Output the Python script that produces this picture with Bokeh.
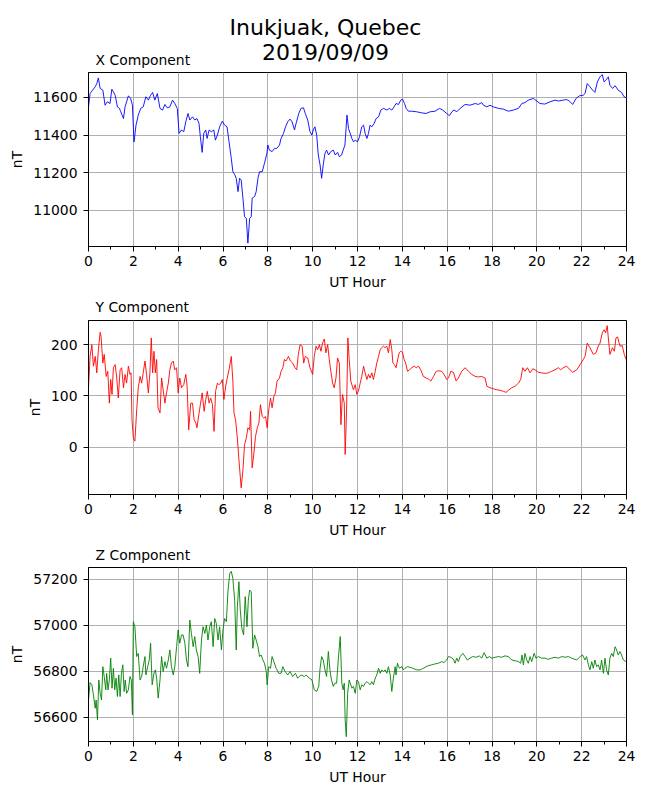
from bokeh.plotting import figure
from bokeh.layouts import column
from bokeh.models import Range1d, SingleIntervalTicker, FixedTicker
from bokeh.core.properties import value
from bokeh.embed import file_html
from bokeh.resources import INLINE

FONT = "DejaVu Sans"

# ---------------- data ----------------
main_title_1 = "Inukjuak, Quebec"
main_title_2 = "2019/09/09"
panel_titles = ["X Component", "Y Component", "Z Component"]

x_hours = [0.00, 0.07, 0.18, 0.30, 0.37, 0.44, 0.52, 0.64, 0.74, 0.84, 0.96, 1.04, 1.11, 1.19, 1.29, 1.38,
           1.44, 1.56, 1.63, 1.78, 1.88, 1.96, 2.03, 2.12, 2.22, 2.33, 2.44, 2.56, 2.67, 2.77, 2.86, 2.96,
           3.07, 3.19, 3.30, 3.41, 3.51, 3.63, 3.75, 3.85, 3.96, 4.04, 4.15, 4.25, 4.34, 4.44, 4.52, 4.64,
           4.74, 4.84, 4.93, 4.99, 5.07, 5.14, 5.23, 5.29, 5.38, 5.48, 5.59, 5.66, 5.75, 5.85, 5.97, 6.07,
           6.18, 6.27, 6.37, 6.44, 6.53, 6.59, 6.67, 6.74, 6.81, 6.89, 6.96, 7.04, 7.11, 7.19, 7.26, 7.30,
           7.41, 7.48, 7.56, 7.63, 7.75, 7.85, 7.96, 8.00, 8.07, 8.19, 8.30, 8.40, 8.52, 8.59, 8.70, 8.79,
           8.89, 8.99, 9.08, 9.19, 9.26, 9.38, 9.48, 9.59, 9.67, 9.78, 9.88, 9.96, 10.03, 10.10, 10.18,
           10.25, 10.33, 10.40, 10.47, 10.55, 10.62, 10.71, 10.81, 10.92, 11.01, 11.11, 11.19, 11.29, 11.36,
           11.44, 11.53, 11.60, 11.75, 11.82, 11.90, 12.00, 12.09, 12.19, 12.27, 12.34, 12.42, 12.49, 12.56,
           12.64, 12.74, 12.83, 12.94, 13.04, 13.16, 13.31, 13.43, 13.53, 13.63, 13.72, 13.83, 13.93, 14.01,
           14.10, 14.17, 14.27, 14.42, 14.64, 14.87, 15.06, 15.24, 15.46, 15.66, 15.80, 15.98, 16.10, 16.21,
           16.31, 16.43, 16.58, 16.80, 17.02, 17.25, 17.39, 17.54, 17.62, 17.77, 17.91, 18.06, 18.29, 18.51,
           18.73, 18.95, 19.18, 19.33, 19.47, 19.62, 19.85, 20.00, 20.14, 20.36, 20.59, 20.81, 20.96, 21.18,
           21.33, 21.45, 21.60, 21.75, 21.90, 22.07, 22.15, 22.25, 22.37, 22.49, 22.59, 22.70, 22.82, 22.92,
           23.00, 23.08, 23.19, 23.26, 23.38, 23.49, 23.63, 23.78, 23.89, 24.00]
x_nT = [11550, 11621, 11639, 11657, 11674, 11704, 11648, 11639, 11559, 11577, 11568, 11644, 11630, 11612, 11550, 11542,
        11524, 11488, 11550, 11609, 11595, 11559, 11364, 11453, 11506, 11542, 11550, 11604, 11586, 11612, 11627, 11586,
        11621, 11542, 11533, 11563, 11545, 11550, 11586, 11568, 11542, 11409, 11427, 11418, 11471, 11515, 11480, 11497,
        11480, 11488, 11462, 11391, 11308, 11409, 11427, 11382, 11427, 11418, 11427, 11373, 11400, 11444, 11474, 11453,
        11444, 11364, 11276, 11205, 11188, 11170, 11099, 11170, 11161, 11064, 10966, 10957, 10825, 10957, 10966, 11064,
        11073, 11099, 11170, 11205, 11205, 11250, 11303, 11347, 11320, 11312, 11329, 11329, 11347, 11382, 11409, 11444,
        11471, 11485, 11471, 11427, 11462, 11515, 11542, 11545, 11515, 11480, 11418, 11400, 11427, 11444, 11400,
        11294, 11241, 11170, 11241, 11303, 11320, 11294, 11312, 11320, 11294, 11308, 11285, 11294, 11320,
        11347, 11506, 11435, 11382, 11364, 11373, 11364, 11391, 11444, 11453, 11409, 11382, 11409, 11453,
        11444, 11462, 11488, 11497, 11533, 11542, 11533, 11542, 11533, 11550, 11568, 11563, 11586, 11591,
        11568, 11542, 11527, 11527, 11524, 11518, 11515, 11524, 11527, 11542, 11533, 11515, 11503, 11524,
        11533, 11524, 11542, 11563, 11559, 11568, 11563, 11573, 11559, 11550, 11559, 11550, 11542, 11538,
        11527, 11533, 11542, 11568, 11573, 11586, 11595, 11581, 11568, 11565, 11577, 11586, 11581, 11586,
        11589, 11581, 11563, 11595, 11609, 11612, 11621, 11674, 11657, 11639, 11627, 11683, 11710, 11722,
        11683, 11692, 11710, 11665, 11648, 11663, 11639, 11627, 11604, 11598]

y_hours = [0.00, 0.07, 0.15, 0.22, 0.30, 0.37, 0.44, 0.52, 0.56, 0.64, 0.70, 0.79, 0.86, 0.93, 0.99, 1.05,
           1.11, 1.19, 1.26, 1.33, 1.41, 1.48, 1.56, 1.63, 1.70, 1.78, 1.85, 1.90, 1.94, 2.00, 2.07, 2.15,
           2.22, 2.30, 2.37, 2.44, 2.52, 2.59, 2.67, 2.74, 2.80, 2.86, 2.92, 2.98, 3.04, 3.10, 3.19, 3.26,
           3.33, 3.41, 3.48, 3.56, 3.63, 3.70, 3.78, 3.85, 3.93, 4.00, 4.07, 4.15, 4.25, 4.34, 4.40, 4.47,
           4.56, 4.64, 4.71, 4.79, 4.84, 4.90, 4.99, 5.07, 5.16, 5.23, 5.30, 5.38, 5.45, 5.53, 5.60, 5.67,
           5.75, 5.82, 5.90, 5.97, 6.04, 6.12, 6.19, 6.27, 6.37, 6.44, 6.49, 6.56, 6.64, 6.71, 6.81, 6.89,
           6.96, 7.04, 7.11, 7.19, 7.23, 7.30, 7.38, 7.45, 7.53, 7.60, 7.67, 7.75, 7.82, 7.90, 7.97, 8.04,
           8.12, 8.19, 8.27, 8.34, 8.41, 8.52, 8.59, 8.67, 8.74, 8.81, 8.92, 9.01, 9.11, 9.21, 9.29, 9.36,
           9.44, 9.53, 9.60, 9.67, 9.78, 9.88, 10.00, 10.07, 10.15, 10.22, 10.30, 10.37, 10.44, 10.52, 10.59,
           10.67, 10.74, 10.81, 10.89, 10.96, 11.04, 11.11, 11.19, 11.26, 11.33, 11.41, 11.45, 11.51, 11.57,
           11.63, 11.70, 11.82, 11.90, 11.97, 12.04, 12.12, 12.19, 12.27, 12.34, 12.42, 12.49, 12.56, 12.64,
           12.71, 12.79, 12.86, 12.94, 13.01, 13.08, 13.16, 13.23, 13.31, 13.38, 13.46, 13.53, 13.58, 13.65,
           13.72, 13.78, 13.86, 13.93, 14.01, 14.08, 14.15, 14.23, 14.32, 14.42, 14.53, 14.62, 14.72, 14.82,
           14.94, 15.06, 15.16, 15.27, 15.39, 15.51, 15.61, 15.76, 15.86, 15.98, 16.06, 16.16, 16.28, 16.40,
           16.50, 16.65, 16.80, 16.95, 17.10, 17.25, 17.39, 17.54, 17.69, 17.77, 17.91, 18.06, 18.21, 18.36,
           18.51, 18.63, 18.73, 18.88, 19.03, 19.18, 19.28, 19.37, 19.47, 19.58, 19.70, 19.82, 19.92, 20.07,
           20.22, 20.37, 20.51, 20.66, 20.81, 20.96, 21.06, 21.18, 21.33, 21.48, 21.60, 21.78, 21.93, 22.07,
           22.15, 22.25, 22.37, 22.52, 22.64, 22.74, 22.82, 22.92, 23.00, 23.07, 23.14, 23.19, 23.26, 23.37,
           23.46, 23.53, 23.60, 23.71, 23.81, 23.90, 23.98]
y_nT = [116, 177, 200, 158, 177, 145, 190, 224, 216, 164, 181, 138, 148, 86, 132, 103,
        155, 161, 135, 96, 151, 155, 116, 142, 125, 158, 142, 145, 54, 18, 12, 73,
        116, 138, 125, 145, 168, 142, 106, 145, 213, 145, 187, 145, 171, 77, 67, 135,
        112, 86, 106, 125, 151, 164, 168, 151, 155, 106, 135, 116, 122, 142, 119, 34,
        86, 86, 54, 47, 38, 57, 83, 106, 70, 93, 109, 86, 96, 83, 31, 109,
        125, 122, 125, 132, 93, 119, 135, 151, 177, 129, 67, 54, 18, -24, -79, -44,
        5, 18, 38, 34, 70, -40, -11, 21, 38, 47, 83, 60, 57, 60, 38, 73,
        96, 77, 99, 106, 129, 135, 148, 155, 171, 168, 177, 168, 164, 155, 151, 181,
        200, 197, 164, 177, 174, 155, 142, 177, 197, 190, 200, 187, 203, 211, 184,
        200, 171, 148, 125, 116, 135, 174, 164, 44, 103, 86, -14, 67, 213,
        171, 129, 112, 122, 103, 109, 125, 138, 158, 145, 132, 142, 135, 145,
        132, 148, 164, 177, 190, 194, 197, 194, 197, 184, 210, 190, 164, 161,
        155, 168, 184, 187, 185, 171, 164, 148, 151, 155, 158, 155, 158, 151,
        138, 135, 133, 129, 138, 148, 149, 148, 142, 132, 135, 148, 146, 129,
        135, 148, 155, 148, 142, 138, 137, 138, 135, 119, 116, 114, 112, 111,
        109, 107, 111, 116, 119, 125, 132, 155, 148, 155, 145, 153, 151, 146,
        145, 144, 145, 148, 151, 155, 151, 155, 158, 151, 146, 151, 161, 171,
        177, 203, 194, 181, 184, 197, 203, 223, 229, 223, 237, 213, 181, 194,
        187, 213, 215, 197, 198, 181, 171]

z_hours = [0.00, 0.07, 0.15, 0.22, 0.30, 0.34, 0.40, 0.46, 0.52, 0.58, 0.64, 0.70, 0.77, 0.81, 0.87, 0.93,
           0.99, 1.05, 1.11, 1.17, 1.23, 1.29, 1.35, 1.41, 1.47, 1.53, 1.59, 1.64, 1.70, 1.78, 1.85, 1.91,
           1.96, 2.00, 2.07, 2.15, 2.22, 2.30, 2.37, 2.44, 2.52, 2.56, 2.64, 2.71, 2.77, 2.84, 2.92, 2.98,
           3.04, 3.11, 3.19, 3.26, 3.33, 3.41, 3.48, 3.56, 3.63, 3.70, 3.78, 3.85, 3.93, 4.00, 4.07, 4.15,
           4.22, 4.30, 4.37, 4.44, 4.52, 4.59, 4.67, 4.74, 4.81, 4.89, 4.96, 5.04, 5.11, 5.19, 5.26, 5.33,
           5.41, 5.48, 5.56, 5.63, 5.70, 5.78, 5.85, 5.93, 6.00, 6.07, 6.15, 6.22, 6.30, 6.37, 6.44, 6.52,
           6.59, 6.64, 6.71, 6.77, 6.84, 6.92, 6.99, 7.07, 7.13, 7.19, 7.26, 7.33, 7.41, 7.48, 7.56, 7.63,
           7.70, 7.78, 7.85, 7.93, 7.97, 8.04, 8.12, 8.19, 8.27, 8.37, 8.49, 8.59, 8.67, 8.77, 8.89, 8.99,
           9.11, 9.23, 9.33, 9.48, 9.63, 9.70, 9.85, 9.97, 10.07, 10.18, 10.27, 10.33, 10.40, 10.47, 10.55,
           10.62, 10.70, 10.77, 10.84, 10.92, 10.99, 11.07, 11.14, 11.23, 11.30, 11.36, 11.41, 11.45, 11.50,
           11.56, 11.63, 11.75, 11.82, 11.90, 11.97, 12.04, 12.12, 12.19, 12.27, 12.34, 12.42, 12.49, 12.56,
           12.64, 12.71, 12.79, 12.86, 12.94, 13.01, 13.08, 13.16, 13.23, 13.31, 13.38, 13.46, 13.53, 13.60,
           13.68, 13.72, 13.78, 13.87, 13.98, 14.05, 14.12, 14.23, 14.35, 14.47, 14.64, 14.79, 14.94, 15.12,
           15.31, 15.46, 15.61, 15.76, 15.86, 15.98, 16.06, 16.16, 16.28, 16.35, 16.43, 16.50, 16.58, 16.70,
           16.80, 16.90, 17.02, 17.14, 17.29, 17.44, 17.54, 17.65, 17.77, 17.88, 17.99, 18.14, 18.29, 18.43,
           18.58, 18.73, 18.88, 19.03, 19.18, 19.28, 19.34, 19.40, 19.47, 19.55, 19.62, 19.70, 19.77, 19.88,
           19.96, 20.07, 20.22, 20.37, 20.51, 20.66, 20.81, 20.96, 21.11, 21.26, 21.41, 21.55, 21.78, 21.93,
           22.04, 22.15, 22.22, 22.30, 22.37, 22.45, 22.52, 22.59, 22.67, 22.74, 22.82, 22.89, 22.97, 23.04,
           23.11, 23.19, 23.26, 23.34, 23.41, 23.49, 23.56, 23.63, 23.71, 23.78, 23.86, 23.98]
z_nT = [56675, 56751, 56741, 56697, 56639, 56675, 56589, 56762, 56704, 56675, 56820, 56777, 56719, 56791, 56719, 56762,
        56857, 56726, 56813, 56719, 56770, 56690, 56784, 56690, 56791, 56828, 56712, 56762, 56704, 56719, 56777, 56762,
        56610, 57016, 56994, 56864, 56878, 56762, 56777, 56820, 56864, 56784, 56820, 56849, 56922, 56741, 56791, 56806,
        56770, 56683, 56762, 56864, 56799, 56842, 56813, 56849, 56893, 56820, 56784, 56820, 56907, 56980, 56922, 56958,
        56958, 56922, 56849, 56820, 57023, 56965, 56907, 56951, 56893, 56864, 56791, 56936, 56994, 56965, 57001, 56936,
        56994, 57016, 56907, 57030, 57009, 56936, 56994, 56893, 56980, 57030, 57016, 57146, 57226, 57235, 57204, 57110,
        56893, 57081, 57190, 57067, 56987, 56958, 57125, 56994, 57110, 57154, 57146, 56900, 56958, 56936, 56907, 56864,
        56871, 56849, 56835, 56799, 56741, 56820, 56813, 56864, 56842, 56813, 56791, 56791, 56820, 56799, 56784, 56799,
        56777, 56791, 56770, 56784, 56777, 56784, 56770, 56762, 56719, 56712, 56734, 56813, 56864, 56849, 56806,
        56777, 56886, 56806, 56762, 56734, 56748, 56748, 56849, 56951, 56748, 56719, 56748, 56589, 56515,
        56704, 56762, 56726, 56734, 56704, 56762, 56755, 56719, 56741, 56734, 56748, 56755, 56748, 56741,
        56755, 56741, 56770, 56784, 56813, 56791, 56806, 56799, 56806, 56791, 56820, 56784, 56712, 56770,
        56820, 56784, 56835, 56813, 56820, 56806, 56813, 56820, 56817, 56813, 56806, 56806, 56813, 56823,
        56828, 56832, 56835, 56842, 56838, 56849, 56864, 56861, 56852, 56835, 56857, 56842, 56864, 56878,
        56864, 56849, 56857, 56864, 56861, 56867, 56857, 56881, 56857, 56864, 56857, 56861, 56864, 56861,
        56867, 56864, 56849, 56846, 56842, 56835, 56871, 56828, 56878, 56849, 56835, 56864, 56842, 56878,
        56857, 56864, 56857, 56857, 56852, 56857, 56861, 56857, 56864, 56861, 56864, 56857, 56849, 56864,
        56871, 56849, 56864, 56828, 56806, 56842, 56813, 56849, 56820, 56828, 56806, 56849, 56791, 56857,
        56806, 56784, 56857, 56878, 56864, 56907, 56893, 56871, 56886, 56871, 56849, 56842]

x_ticks_interval = 2
x_range_hours = (0, 24)
yticks_x = [11000, 11200, 11400, 11600]
yticks_y = [0, 100, 200]
yticks_z = [56600, 56800, 57000, 57200]
yrange_x = (10807, 11733)
yrange_y = (-92, 247)
yrange_z = (56494, 57252)

LEFT = 88
FRAME_W = 538
RIGHT = 24


def style_axis(ax, label, label_standoff, tick_standoff):
    ax.axis_label = label
    ax.axis_label_text_font = FONT
    ax.axis_label_text_font_size = "13.9px"
    ax.axis_label_text_font_style = "normal"
    ax.axis_label_text_color = "black"
    ax.axis_label_standoff = label_standoff
    ax.major_label_text_font = FONT
    ax.major_label_text_font_size = "13.9px"
    ax.major_label_text_color = "black"
    ax.major_label_standoff = tick_standoff
    ax.axis_line_color = "black"
    ax.axis_line_width = 1
    ax.major_tick_line_color = "black"
    ax.minor_tick_line_color = "black"
    ax.major_tick_out = 5
    ax.major_tick_in = 0
    ax.minor_tick_out = 3
    ax.minor_tick_in = 0


def make_panel(hours, vals, color, yr, yticks, bottom):
    p = figure(frame_width=FRAME_W, frame_height=174,
               x_range=Range1d(*x_range_hours), y_range=Range1d(*yr),
               output_backend="svg", toolbar_location=None,
               min_border_left=LEFT, min_border_right=RIGHT,
               min_border_top=0, min_border_bottom=bottom,
               background_fill_color="white", border_fill_color="white")
    p.line(hours, vals, line_color=color, line_width=0.9)
    p.title.text = ""
    p.xaxis.ticker = SingleIntervalTicker(interval=x_ticks_interval, num_minor_ticks=2)
    p.yaxis.ticker = FixedTicker(ticks=yticks)
    style_axis(p.xaxis[0], "UT Hour", 5, 4)
    style_axis(p.yaxis[0], "nT", 5, 6)
    p.yaxis.minor_tick_line_color = None
    p.grid.grid_line_color = "#b0b0b0"
    p.grid.grid_line_width = 1
    p.outline_line_color = "black"
    p.outline_line_width = 1
    p.outline_line_alpha = 1
    return p


def make_header(height):
    # a strip above a panel, in page pixel coordinates (x from frame left edge, y downward)
    h = figure(frame_width=FRAME_W, frame_height=height,
               x_range=Range1d(LEFT, LEFT + FRAME_W), y_range=Range1d(height, 0),
               output_backend="svg", toolbar_location=None,
               x_axis_location=None, y_axis_location=None,
               min_border_left=LEFT, min_border_right=RIGHT, min_border_top=0, min_border_bottom=0,
               background_fill_color="white", border_fill_color="white")
    h.outline_line_color = None
    h.grid.visible = False
    h.title.text = ""
    return h


def add_text(h, x, y, txt, size, align):
    h.text(x=[x], y=[y], text=[txt], text_align=align, text_baseline="middle",
           text_font=value(FONT), text_font_size=value(size), text_color="black")


h1 = make_header(72)
add_text(h1, 325, 26.5, main_title_1, "22px", "center")
add_text(h1, 325, 52.2, main_title_2, "22px", "center")
add_text(h1, LEFT + 7, 59.0, panel_titles[0], "13.9px", "left")

h2 = make_header(24)
add_text(h2, LEFT + 7, 10.3, panel_titles[1], "13.9px", "left")

h3 = make_header(23)
add_text(h3, LEFT + 7, 10.0, panel_titles[2], "13.9px", "left")

p1 = make_panel(x_hours, x_nT, "blue", yrange_x, yticks_x, 50)
p2 = make_panel(y_hours, y_nT, "red", yrange_y, yticks_y, 50)
p3 = make_panel(z_hours, z_nT, "green", yrange_z, yticks_z, 50)

layout = column(h1, p1, h2, p2, h3, p3, spacing=0)
open("out.html", "w").write(file_html(layout, INLINE))
